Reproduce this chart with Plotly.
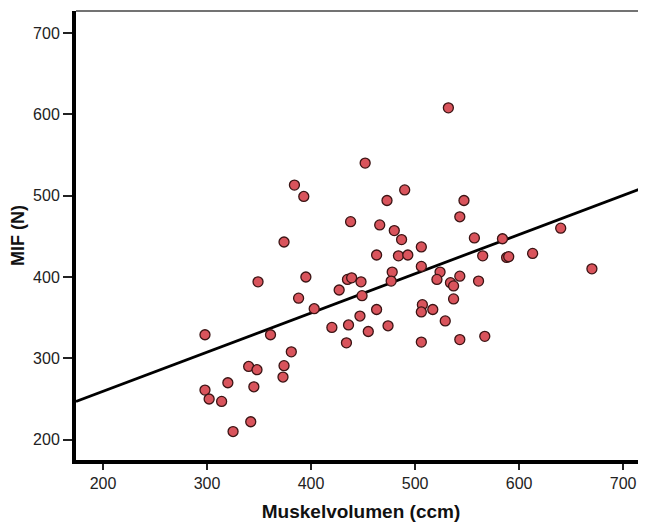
import plotly.graph_objects as go

# Muskelvolumen (ccm)
muskelvolumen = [298, 298, 302, 314, 320, 325, 340, 348, 345, 342,
                 349, 361, 374, 373, 381, 374, 388, 395, 403, 420,
                 427, 436, 434, 435, 439, 438, 448, 447, 452, 384,
                 393, 490, 473, 547, 543, 466, 480, 487, 506, 557,
                 584, 640, 463, 484, 493, 565, 588, 590, 613, 670,
                 506, 478, 524, 543, 477, 521, 534, 537, 561, 449,
                 537, 507, 506, 517, 463, 529, 455, 474, 506, 543,
                 567, 532]
# MIF (N)
mif = [329, 261, 250, 247, 270, 210, 290, 286, 265, 222,
       394, 329, 291, 277, 308, 443, 374, 400, 361, 338,
       384, 341, 319, 397, 399, 468, 394, 352, 540, 513,
       499, 507, 494, 494, 474, 464, 457, 446, 437, 448,
       447, 460, 427, 426, 427, 426, 424, 425, 429, 410,
       413, 406, 406, 401, 395, 397, 393, 389, 395, 377,
       373, 366, 357, 360, 360, 346, 333, 340, 320, 323,
       327, 608]

# fitted regression line (intercept, slope) and x extent
fit_intercept = 163.0
fit_slope = 0.482
fit_x = [174, 722]
fit_y = [fit_intercept + fit_slope * v for v in fit_x]

x_ticks = [200, 300, 400, 500, 600, 700]
y_ticks = [200, 300, 400, 500, 600, 700]

fig = go.Figure()
fig.add_trace(go.Scatter(x=fit_x, y=fit_y, mode="lines",
                         line=dict(color="black", width=2.8),
                         hoverinfo="skip", showlegend=False))
fig.add_trace(go.Scatter(x=muskelvolumen, y=mif, mode="markers",
                         marker=dict(size=10, color="#d9545c",
                                     line=dict(color="#3b1414", width=1.3)),
                         showlegend=False))

font_family = "Liberation Sans, Arial, sans-serif"
# page body has an 8px margin, so the figure is 8px smaller than the window
fig.update_layout(
    width=638, height=516,
    margin=dict(l=68, r=0, t=3, b=64),
    paper_bgcolor="white", plot_bgcolor="white",
    font=dict(family=font_family, color="#222222", size=16),
    xaxis=dict(range=[174, 722], tickvals=x_ticks, ticks="outside",
               ticklen=6, tickwidth=1.5, tickcolor="#222",
               showline=True, linewidth=4, linecolor="black",
               showgrid=False, zeroline=False,
               tickfont=dict(size=16),
               title=dict(text="<b>Muskelvolumen (ccm)</b>",
                          font=dict(size=19, color="#111"), standoff=14)),
    yaxis=dict(range=[175, 727], tickvals=y_ticks, ticks="outside",
               ticklen=9, tickwidth=1.5, tickcolor="#222",
               showline=True, linewidth=4, linecolor="black",
               showgrid=False, zeroline=False,
               tickfont=dict(size=16),
               title=dict(text="<b>MIF (N)</b>",
                          font=dict(size=18, color="#111"), standoff=12)),
    shapes=[dict(type="line", xref="paper", yref="paper",
                 x0=0, x1=1, y0=1, y1=1,
                 line=dict(color="#444", width=1.5))],
)

fig.write_html("out.html")
